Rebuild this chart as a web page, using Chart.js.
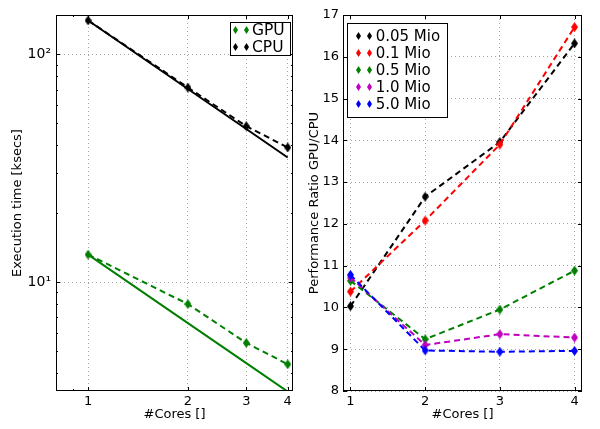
<!DOCTYPE html>
<html>
<head>
<meta charset="utf-8">
<script src="https://cdn.jsdelivr.net/npm/chart.js@4"></script>
<style>
  body { margin: 0; background: #fff; }
  #wrap { position: relative; width: 600px; height: 429px; }
  canvas { position: absolute; top: 0; }
</style>
</head>
<body>
<div id="wrap">
  <canvas id="timeChart" width="300" height="429" style="left:0"></canvas>
  <canvas id="ratioChart" width="300" height="429" style="left:300px"></canvas>
</div>
<script>
// values
const cores = [1, 2, 3, 4];
const gpuTime = [13.2, 8.0, 5.4, 4.35];
const cpuTime = [141, 71.5, 48.4, 39.0];
const gpuIdeal = [13.2, 6.6, 4.4, 3.3];
const cpuIdeal = [141, 70.5, 47, 35.25];
const timeTicks = [10, 100];
const timeTickLabels = ['10\u00b9', '10\u00b2'];
const timeMinorTicks = [4, 5, 6, 7, 8, 9, 20, 30, 40, 50, 60, 70, 80, 90];
const coresMinorTicks = [0.9];

const sizes = ['0.05 Mio', '0.1 Mio', '0.5 Mio', '1.0 Mio', '5.0 Mio'];
const ratio005 = [10.03, 12.65, 13.96, 16.32];
const ratio01 = [10.38, 12.08, 13.9, 16.71];
const ratio05 = [10.64, 9.24, 9.95, 10.88];
const ratio10 = [10.72, 9.1, 9.36, 9.28];
const ratio50 = [10.78, 8.97, 8.94, 8.96];
const ratioColors = ['#000000', '#ff0000', '#007f00', '#bf00bf', '#0000ff'];

Chart.defaults.font.family = '"DejaVu Sans", sans-serif';
Chart.defaults.color = '#000';

// thin diamond marker like matplotlib 'd'
function diamond(color, w, h) {
  const c = document.createElement('canvas');
  c.width = w; c.height = h;
  const g = c.getContext('2d');
  g.fillStyle = color;
  g.beginPath();
  g.moveTo(w / 2, 0);
  g.lineTo(w, h / 2);
  g.lineTo(w / 2, h);
  g.lineTo(0, h / 2);
  g.closePath();
  g.fill();
  return c;
}

function measured(label, data, color) {
  return {
    label: label, data: data, borderColor: color, backgroundColor: color,
    borderWidth: 2, borderDash: [6, 4], tension: 0, fill: false,
    pointStyle: diamond(color, 7, 10), pointRadius: 5,
    legendMarker: diamond(color, 5, 8)
  };
}
function ideal(data, color) {
  return { data: data, borderColor: color, borderWidth: 2, pointRadius: 0, tension: 0, fill: false };
}

// box with inward ticks on all four sides
const framePlugin = {
  id: 'frame',
  afterDatasetsDraw(chart, args, o) {
    const { ctx, chartArea: a, scales } = chart;
    ctx.save();
    ctx.strokeStyle = '#000';
    ctx.lineWidth = 1;
    ctx.strokeRect(a.left + 0.5, a.top + 0.5, a.right - a.left - 1, a.bottom - a.top - 1);
    ctx.beginPath();
    const xt = (v, len) => {
      const p = Math.round(scales.x.getPixelForValue(v)) + 0.5;
      ctx.moveTo(p, a.bottom); ctx.lineTo(p, a.bottom - len);
      ctx.moveTo(p, a.top); ctx.lineTo(p, a.top + len);
    };
    const yt = (v, len) => {
      const p = Math.round(scales.y.getPixelForValue(v)) + 0.5;
      ctx.moveTo(a.left, p); ctx.lineTo(a.left + len, p);
      ctx.moveTo(a.right, p); ctx.lineTo(a.right - len, p);
    };
    scales.x.ticks.forEach(t => xt(t.value, 4));
    scales.y.ticks.forEach(t => yt(t.value, 4));
    (o.xMinor || []).forEach(v => xt(v, 2));
    (o.yMinor || []).forEach(v => yt(v, 2));
    ctx.stroke();
    ctx.restore();
  }
};

const boxLegend = {
  id: 'boxLegend',
  afterDraw(chart, args, o) {
    const { ctx, chartArea: a } = chart;
    const items = chart.data.datasets.filter(d => d.label);
    const bx = o.align === 'right' ? a.right - o.dx - o.width : a.left + o.dx;
    const by = a.top + o.dy;
    ctx.save();
    ctx.fillStyle = '#fff';
    ctx.fillRect(bx, by, o.width, o.height);
    ctx.strokeStyle = '#000';
    ctx.lineWidth = 1;
    ctx.strokeRect(Math.round(bx) + 0.5, Math.round(by) + 0.5, o.width, o.height);
    ctx.font = o.fontSize + 'px "DejaVu Sans"';
    ctx.textBaseline = 'middle';
    ctx.fillStyle = '#000';
    items.forEach((d, i) => {
      const cy = by + o.firstRow + i * o.rowGap;
      const m = d.legendMarker;
      ctx.drawImage(m, Math.round(bx + o.m1 - m.width / 2), Math.round(cy - m.height / 2));
      ctx.drawImage(m, Math.round(bx + o.m2 - m.width / 2), Math.round(cy - m.height / 2));
      ctx.fillText(d.label, bx + o.textX, cy + 1);
    });
    ctx.restore();
  }
};

const gridStyle = { color: 'rgba(0,0,0,0.35)', lineWidth: 1, drawTicks: false };
const borderStyle = { display: false, dash: [1, 3] };
const tickFont = { size: 13 };
const titleFont = { size: 13 };

new Chart(document.getElementById('timeChart'), {
  type: 'line',
  data: {
    labels: cores,
    datasets: [
      measured('GPU', gpuTime, '#007f00'),
      measured('CPU', cpuTime, '#000000'),
      ideal(gpuIdeal, '#007f00'),
      ideal(cpuIdeal, '#000000')
    ].map(d => ({ ...d, data: d.data.map((v, i) => ({ x: cores[i], y: v })) }))
  },
  options: {
    responsive: false,
    animation: false,
    layout: { padding: { left: 0, right: 6, top: 15, bottom: 0 } },
    plugins: {
      legend: { display: false },
      tooltip: { enabled: false },
      frame: { xMinor: coresMinorTicks, yMinor: timeMinorTicks },
      boxLegend: { align: 'right', dx: 3, dy: 7, width: 60, height: 33,
        firstRow: 8.4, rowGap: 16.6, m1: 5.7, m2: 16.7, textX: 22, fontSize: 15.5 }
    },
    scales: {
      x: {
        type: 'logarithmic', min: 0.8, max: 4.15,
        afterBuildTicks: s => { s.ticks = cores.map(v => ({ value: v })); },
        afterFit: s => { s.height = 38; },
        ticks: { callback: v => String(v), font: tickFont, padding: 3, maxRotation: 0, autoSkip: false },
        grid: gridStyle, border: borderStyle,
        title: { display: true, text: '#Cores []', font: titleFont, padding: { top: 0, bottom: 7 } }
      },
      y: {
        type: 'logarithmic', min: 3.32, max: 149,
        afterBuildTicks: s => { s.ticks = timeTicks.map(v => ({ value: v })); },
        afterFit: s => { s.width = 56; },
        ticks: { callback: v => timeTickLabels[timeTicks.indexOf(v)], font: { size: 14 }, padding: 5 },
        grid: gridStyle, border: borderStyle,
        title: { display: true, text: 'Execution time [ksecs]', font: titleFont, padding: { top: 10, bottom: 0 } }
      }
    }
  },
  plugins: [framePlugin, boxLegend]
});

const ratioSeries = [ratio005, ratio01, ratio05, ratio10, ratio50];

new Chart(document.getElementById('ratioChart'), {
  type: 'line',
  data: {
    labels: cores,
    datasets: ratioSeries.map((vals, i) => ({
      ...measured(sizes[i], vals.map((v, j) => ({ x: cores[j], y: v })), ratioColors[i]),
      order: sizes.length - i
    }))
  },
  options: {
    responsive: false,
    animation: false,
    layout: { padding: { left: 0, right: 18, top: 15, bottom: 0 } },
    plugins: {
      legend: { display: false },
      tooltip: { enabled: false },
      frame: {},
      boxLegend: { align: 'left', dx: 4, dy: 7.7, width: 100, height: 94,
        firstRow: 13, rowGap: 17.1, m1: 11.7, m2: 22.7, textX: 28.7, fontSize: 15 }
    },
    scales: {
      x: {
        type: 'linear', min: 0.9, max: 4.1,
        afterBuildTicks: s => { s.ticks = cores.map(v => ({ value: v })); },
        afterFit: s => { s.height = 38; },
        ticks: { callback: v => String(v), font: tickFont, padding: 3, maxRotation: 0, autoSkip: false },
        grid: gridStyle, border: borderStyle,
        title: { display: true, text: '#Cores []', font: titleFont, padding: { top: 0, bottom: 7 } }
      },
      y: {
        type: 'linear', min: 8, max: 17,
        ticks: { stepSize: 1, font: tickFont, padding: 4 },
        afterFit: s => { s.width = 43; },
        grid: gridStyle, border: borderStyle,
        title: { display: true, text: 'Performance Ratio GPU/CPU', font: titleFont, padding: { top: 7, bottom: 0 } }
      }
    }
  },
  plugins: [framePlugin, boxLegend]
});
</script>
</body>
</html>
